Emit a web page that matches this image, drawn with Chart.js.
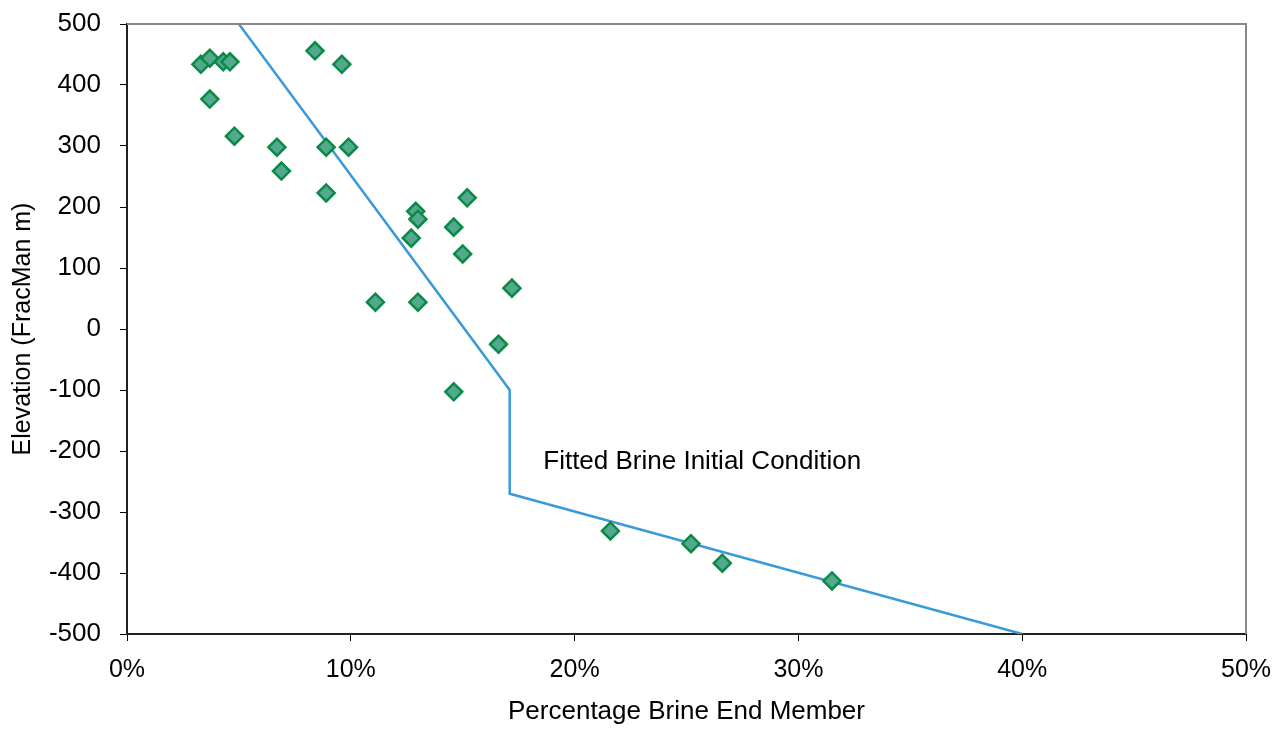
<!DOCTYPE html>
<html>
<head>
<meta charset="utf-8">
<script src="https://cdn.jsdelivr.net/npm/chart.js@4"></script>
<style>
  html, body { margin: 0; padding: 0; background: #fff; }
  #wrap { width: 1287px; height: 731px; }
</style>
</head>
<body>
<div id="wrap"><canvas id="brineChart" width="1287" height="731"></canvas></div>
<script>
// measured brine fractions (%) and elevations (FracMan m)
const brinePct = [3.3, 3.7, 4.3, 4.6, 3.7, 4.8, 6.7, 6.9, 8.4, 9.6, 8.9, 9.9, 8.9,
                  12.9, 13.0, 12.7, 14.6, 15.2, 15.0, 11.1, 13.0, 17.2, 16.6, 14.6,
                  21.6, 25.2, 26.6, 31.5];
const elevation = [434, 444, 438, 438, 377, 316, 298, 259, 456, 434, 298, 298, 223,
                   193, 180, 149, 167, 215, 123, 44, 44, 67, -25, -103,
                   -331, -352, -384, -413];

// fitted initial condition
const fitPct = [5.0, 17.1, 17.1, 40.0];
const fitElev = [500, -100, -270, -500];

const xTicks = [0, 10, 20, 30, 40, 50];
const yTicks = [500, 400, 300, 200, 100, 0, -100, -200, -300, -400, -500];

const fitLabel = 'Fitted Brine Initial Condition';

const points = brinePct.map((x, i) => ({x: x, y: elevation[i]}));
const fitLine = fitPct.map((x, i) => ({x: x, y: fitElev[i]}));

const fontFam = '"Liberation Sans", Arial, sans-serif';

// gray frame on the top and right side + annotation text
const framePlugin = {
    id: 'frame',
    afterDraw(chart) {
        const c = chart.ctx, a = chart.chartArea;
        c.save();
        c.strokeStyle = '#888888';
        c.lineWidth = 2;
        c.beginPath();
        c.moveTo(a.left, a.top);
        c.lineTo(a.right, a.top);
        c.lineTo(a.right, a.bottom);
        c.stroke();
        c.fillStyle = '#000';
        c.font = '26px ' + fontFam;
        c.textBaseline = 'middle';
        c.fillText(fitLabel, chart.scales.x.getPixelForValue(18.6), chart.scales.y.getPixelForValue(-217));
        c.restore();
    }
};

const ctx = document.getElementById('brineChart').getContext('2d');
let brineChart = new Chart(ctx, {
    type: 'scatter',
    data: {
        datasets: [{
            label: 'Fit',
            data: fitLine,
            showLine: true,
            borderColor: '#3a9ad9',
            borderWidth: 2.5,
            pointRadius: 0,
            tension: 0,
            fill: false,
            order: 2
        }, {
            label: 'Samples',
            data: points,
            pointStyle: 'rectRot',
            pointRadius: 8.5,
            backgroundColor: '#53a98e',
            borderColor: '#0a8a46',
            borderWidth: 2.5,
            order: 1
        }]
    },
    options: {
        responsive: false,
        animation: false,
        layout: { padding: { top: 24, right: 41, left: 0, bottom: 0 } },
        plugins: {
            legend: { display: false },
            tooltip: { enabled: false }
        },
        scales: {
            x: {
                type: 'linear',
                min: 0,
                max: 50,
                afterBuildTicks: (s) => { s.ticks = xTicks.map(v => ({value: v})); },
                afterFit: (s) => { s.height = 97; },
                ticks: {
                    callback: (v) => v + '%',
                    color: '#000',
                    font: { family: fontFam, size: 25 },
                    padding: 14,
                    maxRotation: 0
                },
                grid: { drawOnChartArea: false, drawTicks: true, tickLength: 7, color: '#000' },
                border: { color: '#222', width: 2 },
                title: {
                    display: true,
                    text: 'Percentage Brine End Member',
                    color: '#000',
                    font: { family: fontFam, size: 26 },
                    padding: { top: 7 }
                }
            },
            y: {
                type: 'linear',
                min: -500,
                max: 500,
                afterBuildTicks: (s) => { s.ticks = yTicks.map(v => ({value: v})); },
                afterFit: (s) => { s.width = 127; s.paddingTop = 0; s.paddingBottom = 0; },
                ticks: {
                    color: '#000',
                    font: { family: fontFam, size: 26 },
                    padding: 19
                },
                grid: { drawOnChartArea: false, drawTicks: true, tickLength: 7, color: '#000' },
                border: { color: '#222', width: 2 },
                title: {
                    display: true,
                    text: 'Elevation (FracMan m)',
                    color: '#000',
                    font: { family: fontFam, size: 25 },
                    padding: { top: 8 }
                }
            }
        }
    },
    plugins: [framePlugin]
});
</script>
</body>
</html>
